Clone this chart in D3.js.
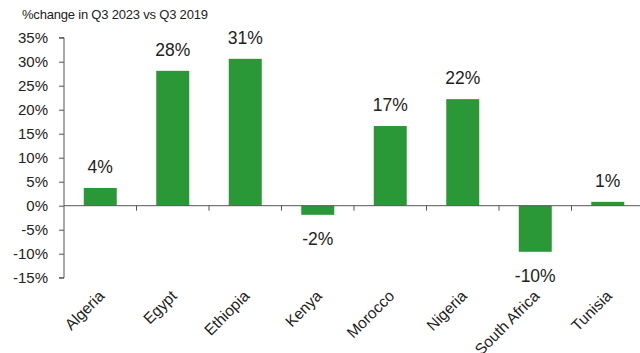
<!DOCTYPE html>
<html>
<head>
<meta charset="utf-8">
<script src="https://cdn.jsdelivr.net/npm/d3@7"></script>
<style>
  html, body { margin: 0; padding: 0; background: #fff; }
  svg { display: block; font-family: "Liberation Sans", Arial, sans-serif; }
</style>
</head>
<body>
<svg id="chart" width="640" height="353"></svg>
<script>
// Percentage change in Q3 2023 versus Q3 2019, by country
const countries = ["Algeria", "Egypt", "Ethiopia", "Kenya", "Morocco", "Nigeria", "South Africa", "Tunisia"];
const changes = [0.037, 0.281, 0.306, -0.019, 0.166, 0.222, -0.096, 0.008];
const yTicks = [0.35, 0.30, 0.25, 0.20, 0.15, 0.10, 0.05, 0, -0.05, -0.10, -0.15];
const titleText = "%change in Q3 2023 vs Q3 2019";

const svg = d3.select("#chart");
const plotLeft = 64, plotRight = 644, plotTop = 37.7, plotBottom = 277.7;

const x = d3.scaleBand().domain(countries).range([plotLeft, plotRight]).paddingInner(0.545).paddingOuter(0.2725);
const y = d3.scaleLinear().domain([-0.15, 0.35]).range([plotBottom, plotTop]);
// plain hyphen for negatives
const locale = d3.formatLocale({ decimal: ".", thousands: ",", grouping: [3], currency: ["", ""], minus: "-" });
const pct = locale.format(".0%");
const axisColor = "#555";

// title
svg.append("text")
  .attr("x", 22).attr("y", 19)
  .attr("font-size", 13).attr("fill", "#222")
  .attr("letter-spacing", -0.2)
  .text(titleText);

// y axis
const yAxis = svg.append("g")
  .attr("transform", `translate(${plotLeft},0)`)
  .call(d3.axisLeft(y).tickValues(yTicks).tickFormat(pct).tickSize(5).tickPadding(11));
yAxis.select(".domain").attr("stroke", axisColor).attr("d", `M-5,${y(0.35)}H0V${y(-0.15)}H-5`);
yAxis.selectAll(".tick line").attr("stroke", axisColor);
yAxis.selectAll(".tick text").attr("font-size", 15).attr("fill", "#222").attr("font-family", "Liberation Sans, Arial, sans-serif");

// bars
svg.append("g").selectAll("rect")
  .data(countries.map((c, i) => ({ c, v: changes[i] })))
  .join("rect")
  .attr("x", d => x(d.c))
  .attr("width", x.bandwidth())
  .attr("y", d => y(Math.max(0, d.v)))
  .attr("height", d => Math.abs(y(d.v) - y(0)))
  .attr("fill", "#2a9836");

// x axis along the zero line, ticks at category boundaries
const zeroY = y(0);
const bounds = d3.range(countries.length + 1).map(i => plotLeft + i * x.step());
svg.append("line")
  .attr("x1", plotLeft).attr("x2", 640).attr("y1", zeroY).attr("y2", zeroY)
  .attr("stroke", axisColor);
svg.append("g").selectAll("line")
  .data(bounds.slice(1))
  .join("line")
  .attr("x1", d => d).attr("x2", d => d)
  .attr("y1", zeroY).attr("y2", zeroY + 5)
  .attr("stroke", axisColor);

// category labels, rotated
svg.append("g").selectAll("text")
  .data(countries)
  .join("text")
  .attr("transform", d => `translate(${x(d) + x.bandwidth() / 2 + 5},${297}) rotate(-45)`)
  .attr("text-anchor", "end")
  .attr("font-size", 15.5)
  .attr("fill", "#222")
  .text(d => d);

// value labels
svg.append("g").selectAll("text")
  .data(countries.map((c, i) => ({ c, v: changes[i] })))
  .join("text")
  .attr("x", d => x(d.c) + x.bandwidth() / 2)
  .attr("y", d => d.v >= 0 ? y(d.v) - 15 : y(d.v) + 30)
  .attr("text-anchor", "middle")
  .attr("font-size", 17.5)
  .attr("fill", "#222")
  .text(d => pct(d.v));
</script>
</body>
</html>
